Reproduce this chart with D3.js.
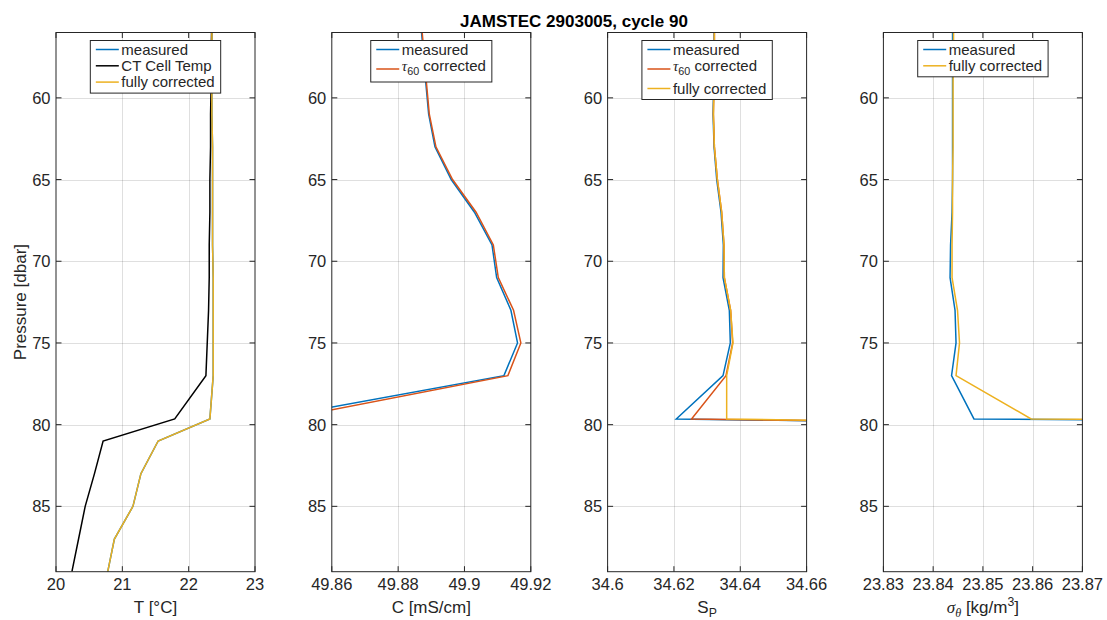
<!DOCTYPE html>
<html>
<head>
<meta charset="utf-8">
<script src="https://cdn.jsdelivr.net/npm/d3@7"></script>
<style>
  body { margin: 0; background: #fff; }
  svg { display: block; }
  text { font-family: "Liberation Sans", Arial, Helvetica, sans-serif; fill: #262626; }
</style>
</head>
<body>
<svg id="fig" width="1107" height="620"></svg>
<script>
// Profile levels (dbar); null marks values that fall off the plotted range
const pressure = [55, 57, 59, 61, 63, 65, 67, 69, 71, 73, 75, 77, 79.65, 81, 83, 85, 87, 89];

// Temperature [°C]
const tMeasured       = [22.35, 22.35, 22.35, 22.35, 22.36, 22.36, 22.36, 22.36, 22.37, 22.37, 22.37, 22.37, 22.32, 21.54, 21.28, 21.16, 20.88, 20.78];
const tCellTemp       = [22.35, 22.34, 22.34, 22.33, 22.33, 22.32, 22.32, 22.31, 22.31, 22.30, 22.28, 22.26, 21.79, 20.71, 20.58, 20.44, 20.34, 20.24];
const tFullyCorrected = [22.35, 22.35, 22.35, 22.35, 22.36, 22.36, 22.36, 22.36, 22.37, 22.37, 22.37, 22.37, 22.32, 21.54, 21.28, 21.16, 20.88, 20.78];

// Conductivity [mS/cm]
const cMeasured = [49.8866, 49.8875, 49.8883, 49.8892, 49.8911, 49.8960, 49.9030, 49.9083, 49.9097, 49.9140, 49.9160, 49.9119, 49.8403, null, null, null, null, null];
const cTau60    = [49.8868, 49.8877, 49.8885, 49.8894, 49.8914, 49.8964, 49.9035, 49.9087, 49.9102, 49.9148, 49.9170, 49.9131, 49.8461, null, null, null, null, null];

// Practical salinity
const sMeasured       = [34.6321, 34.6321, 34.6320, 34.6318, 34.6321, 34.6329, 34.6342, 34.6349, 34.6348, 34.6367, 34.6370, 34.6348, 34.6207, 35.10, null, null, null, null];
const sTau60          = [34.6322, 34.6322, 34.6321, 34.6319, 34.6322, 34.6331, 34.6344, 34.6351, 34.6352, 34.6371, 34.6377, 34.6357, 34.6253, 35.09, null, null, null, null];
const sFullyCorrected = [34.6322, 34.6322, 34.6321, 34.6319, 34.6322, 34.6331, 34.6344, 34.6351, 34.6352, 34.6371, 34.6378, 34.6359, 34.6359, 35.08, null, null, null, null];

// Potential density anomaly [kg/m^3]
const sigmaMeasured       = [23.8439, 23.8439, 23.8439, 23.8439, 23.8439, 23.8439, 23.8438, 23.8435, 23.8434, 23.8444, 23.8446, 23.8437, 23.8482, 24.50, null, null, null, null];
const sigmaFullyCorrected = [23.8441, 23.8441, 23.8440, 23.8440, 23.8440, 23.8439, 23.8439, 23.8438, 23.8438, 23.8449, 23.8453, 23.8446, 23.8597, 24.50, null, null, null, null];

// Axis ranges and ticks
const pressureRange = [56, 89];
const pressureTicks = [60, 65, 70, 75, 80, 85];
const tRange = [20, 23],          tTicks = [20, 21, 22, 23];
const cRange = [49.86, 49.92],    cTicks = [49.86, 49.88, 49.9, 49.92];
const sRange = [34.6, 34.66],     sTicks = [34.6, 34.62, 34.64, 34.66];
const sigmaRange = [23.83, 23.87], sigmaTicks = [23.83, 23.84, 23.85, 23.86, 23.87];

const titleText = "JAMSTEC 2903005, cycle 90";

// MATLAB default line colours
const BLUE = "#0072BD", ORANGE = "#D95319", YELLOW = "#EDB120", BLACK = "#000000";
const AXIS = "#262626";
const SERIF = "'Liberation Serif', 'DejaVu Serif', serif";

// Rich-text helpers for labels with sub/superscripts
const plain = s => t => t.text(s);
const tau60 = () => t => {
  t.append("tspan").attr("font-family", SERIF).attr("font-style", "italic").text("τ");
  t.append("tspan").attr("font-size", "0.72em").attr("dy", 4).text("60");
  t.append("tspan").attr("dy", -4).text(" corrected");
};

const panels = [
  {
    range: tRange, ticks: tTicks,
    series: [
      { label: plain("measured"), values: tMeasured, color: BLUE },
      { label: plain("CT Cell Temp"), values: tCellTemp, color: BLACK },
      { label: plain("fully corrected"), values: tFullyCorrected, color: YELLOW }
    ],
    xlabel: t => { t.append("tspan").text("T ["); t.append("tspan").text("°"); t.append("tspan").text("C]"); },
    ylabel: true
  },
  {
    range: cRange, ticks: cTicks,
    series: [
      { label: plain("measured"), values: cMeasured, color: BLUE },
      { label: tau60(), values: cTau60, color: ORANGE, tall: true }
    ],
    xlabel: plain("C [mS/cm]")
  },
  {
    range: sRange, ticks: sTicks,
    series: [
      { label: plain("measured"), values: sMeasured, color: BLUE },
      { label: tau60(), values: sTau60, color: ORANGE, tall: true },
      { label: plain("fully corrected"), values: sFullyCorrected, color: YELLOW }
    ],
    xlabel: t => { t.append("tspan").text("S"); t.append("tspan").attr("font-size", "0.72em").attr("dy", 4).text("P"); }
  },
  {
    range: sigmaRange, ticks: sigmaTicks,
    series: [
      { label: plain("measured"), values: sigmaMeasured, color: BLUE },
      { label: plain("fully corrected"), values: sigmaFullyCorrected, color: YELLOW }
    ],
    xlabel: t => {
      t.append("tspan").attr("font-family", SERIF).attr("font-style", "italic").text("σ");
      t.append("tspan").attr("font-family", SERIF).attr("font-style", "italic").attr("font-size", "0.72em").attr("dy", 4).text("θ");
      t.append("tspan").attr("dy", -4).text(" [kg/m");
      t.append("tspan").attr("font-size", "0.72em").attr("dy", -7).text("3");
      t.append("tspan").attr("dy", 7).text("]");
    }
  }
];

// Figure layout
const layout = { left: 56, step: 275.8, width: 199, top: 32.5, bottom: 571.7, tick: 5.5 };

const svg = d3.select("#fig");

svg.append("text")
  .attr("x", 574).attr("y", 26.5)
  .attr("text-anchor", "middle")
  .attr("font-weight", "bold").attr("font-size", 17)
  .style("fill", "#000")
  .text(titleText);

const y = d3.scaleLinear().domain(pressureRange).range([layout.top, layout.bottom]);

panels.forEach((p, i) => {
  const x0 = layout.left + i * layout.step;
  const x = d3.scaleLinear().domain(p.range).range([x0, x0 + layout.width]);
  const g = svg.append("g");
  const clipId = "clip" + i;

  svg.append("clipPath").attr("id", clipId)
    .append("rect")
    .attr("x", x0).attr("y", layout.top)
    .attr("width", layout.width).attr("height", layout.bottom - layout.top);

  // grid
  const grid = g.append("g").attr("stroke", AXIS).attr("stroke-opacity", 0.15).attr("stroke-width", 1);
  grid.selectAll("line.gx").data(p.ticks.slice(1, -1)).join("line")
    .attr("x1", d => Math.round(x(d)) + 0.5).attr("x2", d => Math.round(x(d)) + 0.5)
    .attr("y1", layout.top).attr("y2", layout.bottom);
  grid.selectAll("line.gy").data(pressureTicks).join("line")
    .attr("y1", d => Math.round(y(d)) + 0.5).attr("y2", d => Math.round(y(d)) + 0.5)
    .attr("x1", x0).attr("x2", x0 + layout.width);

  // profiles
  const line = d3.line()
    .defined(d => d[1] != null)
    .x(d => x(d[1])).y(d => y(d[0]));
  const lines = g.append("g").attr("clip-path", `url(#${clipId})`);
  p.series.forEach(s => {
    lines.append("path")
      .datum(pressure.map((pr, k) => [pr, s.values[k]]))
      .attr("fill", "none")
      .attr("stroke", s.color)
      .attr("stroke-width", 1.5)
      .attr("stroke-linejoin", "miter")
      .attr("d", line);
  });

  // axes box with inward ticks on all sides
  const axG = g.append("g").attr("stroke", AXIS).attr("stroke-width", 1).attr("fill", "none");
  axG.append("rect")
    .attr("x", x0).attr("y", layout.top)
    .attr("width", layout.width).attr("height", layout.bottom - layout.top);
  p.ticks.forEach(v => {
    const xx = x(v);
    axG.append("line").attr("x1", xx).attr("x2", xx).attr("y1", layout.bottom).attr("y2", layout.bottom - layout.tick);
    axG.append("line").attr("x1", xx).attr("x2", xx).attr("y1", layout.top).attr("y2", layout.top + layout.tick);
  });
  pressureTicks.forEach(v => {
    const yy = y(v);
    axG.append("line").attr("x1", x0).attr("x2", x0 + layout.tick).attr("y1", yy).attr("y2", yy);
    axG.append("line").attr("x1", x0 + layout.width).attr("x2", x0 + layout.width - layout.tick).attr("y1", yy).attr("y2", yy);
  });

  // tick labels
  g.selectAll("text.xt").data(p.ticks).join("text")
    .attr("x", d => x(d)).attr("y", layout.bottom + 18.5)
    .attr("text-anchor", "middle").attr("font-size", 16.5)
    .text(d => String(d));
  g.selectAll("text.yt").data(pressureTicks).join("text")
    .attr("x", x0 - 5.5).attr("y", d => y(d) + 6)
    .attr("text-anchor", "end").attr("font-size", 16.5)
    .text(d => String(d));

  // axis labels
  g.append("text")
    .attr("x", x0 + layout.width / 2).attr("y", 613)
    .attr("text-anchor", "middle").attr("font-size", 17)
    .call(p.xlabel);
  if (p.ylabel) {
    g.append("text")
      .attr("transform", `translate(26,${(layout.top + layout.bottom) / 2}) rotate(-90)`)
      .attr("text-anchor", "middle").attr("font-size", 17)
      .text("Pressure [dbar]");
  }

  // legend, centred at the top of the panel
  const lg = g.append("g");
  const box = lg.append("rect").attr("fill", "#fff").attr("stroke", AXIS).attr("stroke-width", 1);
  const top = 40.5;
  let cy = top + 9;
  const centers = [];
  p.series.forEach((s, k) => {
    if (k > 0) cy += (s.tall || p.series[k - 1].tall) ? 19.5 : 16.3;
    centers.push(cy);
  });
  const last = p.series[p.series.length - 1];
  const bottom = cy + (last.tall ? 13 : 11);
  const texts = p.series.map((s, k) =>
    lg.append("text")
      .attr("y", centers[k] + (s.tall ? 1.5 : 5))
      .attr("font-size", 15)
      .call(s.label)
  );
  const maxW = d3.max(texts, t => t.node().getComputedTextLength());
  const boxW = 5.5 + 23 + 2.5 + maxW + 6;
  const bx = x0 + layout.width / 2 - boxW / 2;
  box.attr("x", bx).attr("y", top).attr("width", boxW).attr("height", bottom - top);
  p.series.forEach((s, k) => {
    lg.append("line")
      .attr("x1", bx + 5.5).attr("x2", bx + 28.5)
      .attr("y1", centers[k]).attr("y2", centers[k])
      .attr("stroke", s.color).attr("stroke-width", 1.5);
    texts[k].attr("x", bx + 31);
  });
});
</script>
</body>
</html>
